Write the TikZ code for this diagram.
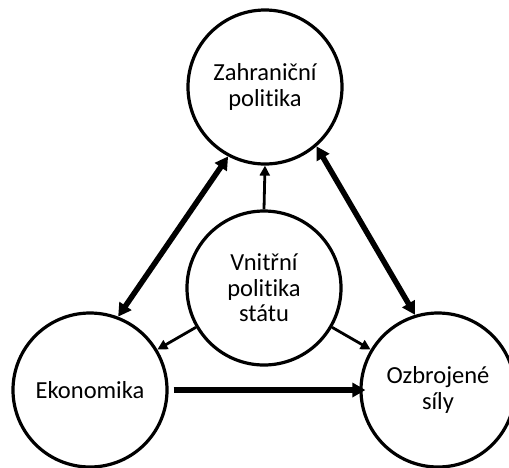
\documentclass[tikz,border=0pt]{standalone}
\usepackage{fontspec}
\setmainfont{Carlito}[Ligatures=NoCommon]
\usetikzlibrary{arrows.meta}

\begin{document}
\begin{tikzpicture}[x=1pt,y=-1pt,
    main_node/.style={circle,draw,line width=3.2pt,minimum size=154pt,inner sep=0pt,align=center,font=\fontsize{24.5}{25.5}\selectfont},
    thick_arrow/.style={line width=5.5pt,-{Triangle[length=13pt,width=14pt]}},
    both_arrow/.style={line width=5.5pt,{Triangle[length=13pt,width=14pt]}-{Triangle[length=13pt,width=14pt]}},
    thin_arrow/.style={line width=2.8pt,-{Triangle[length=10pt,width=10pt]}}]

    \useasboundingbox (0,0) rectangle (509,467);

    \node[main_node] (1) at (265,87) {Zahraniční\\politika};
    \node[main_node] (2) at (264,288) {Vnitřní\\politika\\státu};
    \node[main_node] (3) at (90,390) {Ekonomika};
    \node[main_node] (4) at (438,390) {Ozbrojené\\síly};
    \draw[both_arrow] (1.-118) -- (3.69);
    \draw[both_arrow] (1.-49) -- (4.107);
    \draw[thin_arrow] (2.north) -- (1.south);
    \draw[thin_arrow] (2.-150) -- (3.31);
    \draw[thin_arrow] (2.-30) -- (4.149);
    \draw[thick_arrow,shorten <=5pt,shorten >=-6pt] (3.east) -- (4.west);
\end{tikzpicture}
\end{document}
